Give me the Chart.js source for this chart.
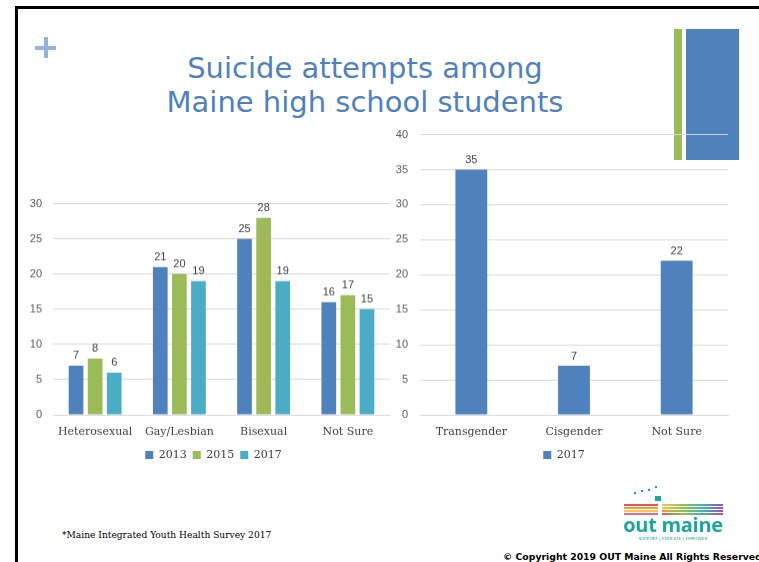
<!DOCTYPE html>
<html>
<head>
<meta charset="utf-8">
<script src="https://cdn.jsdelivr.net/npm/chart.js@4"></script>
<style>
  html, body { margin:0; padding:0; background:#fff; }
  body { width:759px; height:562px; position:relative; overflow:hidden; }
  .abs { position:absolute; }
  #borderTop { left:15px; top:6px; width:760px; height:3px; background:#000; }
  #borderLeft { left:15px; top:6px; width:3px; height:570px; background:#000; }
  #plusH { left:35px; top:46px; width:21px; height:4px; background:#95B3D7; }
  #plusV { left:44px; top:37px; width:4px; height:21px; background:#95B3D7; }
  #title { left:0; top:51px; width:730px; text-align:center; font-family:"DejaVu Sans", Verdana, sans-serif; font-size:29px; line-height:34px; color:#4F81BD; }
  #decoGreen { left:674px; top:29px; width:8px; height:131px; background:#9BBB59; }
  #decoBlue { left:686px; top:29px; width:53px; height:131px; background:#4F81BD; }
  #c1wrap { left:29px; top:186px; width:367px; height:283.5px; }
  #c2wrap { left:380px; top:116px; width:370px; height:353.5px; }
  #foot { left:62px; top:530px; font-family:"DejaVu Serif", serif; font-size:9.1px; color:#000; white-space:nowrap; }
  #copy { left:503px; top:551px; font-family:"DejaVu Sans", Verdana, sans-serif; font-weight:bold; font-size:9.3px; color:#000; white-space:nowrap; }
  #logoText { left:622px; top:513px; width:102px; text-align:center; font-family:"Open Sans", "DejaVu Sans", sans-serif; font-weight:700; font-size:20px; line-height:24px; color:#1BA89C; letter-spacing:-0.3px; }
  #logoTag { left:622px; top:536px; width:102px; text-align:center; font-family:"DejaVu Sans", sans-serif; font-size:4.2px; color:#1BA89C; white-space:nowrap; }
  .rb { position:absolute; height:1.5px; }
</style>
</head>
<body>
<div id="borderTop" class="abs"></div>
<div id="borderLeft" class="abs"></div>
<div id="plusH" class="abs"></div>
<div id="plusV" class="abs"></div>
<div id="decoGreen" class="abs"></div>
<div id="decoBlue" class="abs"></div>
<div id="title" class="abs">Suicide attempts among<br>Maine high school students</div>

<div id="c1wrap" class="abs"><canvas id="c1"></canvas></div>
<div id="c2wrap" class="abs"><canvas id="c2"></canvas></div>

<div id="foot" class="abs">*Maine Integrated Youth Health Survey 2017</div>
<div id="copy" class="abs">© Copyright 2019 OUT Maine All Rights Reserved</div>

<div id="logo" class="abs" style="left:0;top:0;width:759px;height:562px;">
  <div class="rb" style="left:624px;top:504px;width:34px;background:#E8554E"></div>
  <div class="rb" style="left:624px;top:507px;width:34px;background:#F39A3B"></div>
  <div class="rb" style="left:624px;top:510px;width:34px;background:#F2C94C"></div>
  <div class="rb" style="left:624px;top:513px;width:34px;background:#E86A8A"></div>
  <div class="rb" style="left:662px;top:504px;width:61px;background:linear-gradient(90deg,#F2C94C,#8BC34A,#3FB6A8,#7E57C2)"></div>
  <div class="rb" style="left:662px;top:507px;width:61px;background:linear-gradient(90deg,#F2C94C,#8BC34A,#3FB6A8,#9C4DCC)"></div>
  <div class="rb" style="left:662px;top:510px;width:61px;background:linear-gradient(90deg,#F39A3B,#8BC34A,#3FB6A8,#9C4DCC)"></div>
  <div class="rb" style="left:662px;top:513px;width:61px;background:linear-gradient(90deg,#E8554E,#8BC34A,#3FB6A8,#B04DC0)"></div>
  <div class="abs" style="left:655px;top:496px;width:6px;height:5px;background:#1BA89C"></div>
  <div class="abs" style="left:634px;top:492px;width:2px;height:2px;background:#1BA89C"></div>
  <div class="abs" style="left:641px;top:490px;width:2px;height:2px;background:#1BA89C"></div>
  <div class="abs" style="left:648px;top:489px;width:2px;height:2px;background:#1BA89C"></div>
  <div class="abs" style="left:655px;top:486px;width:2px;height:2px;background:#1BA89C"></div>
</div>
<div id="logoText" class="abs">out maine</div>
<div id="logoTag" class="abs">SUPPORT | EDUCATE | EMPOWER</div>

<script>
// ---- Data ----
const orientationCategories = ["Heterosexual", "Gay/Lesbian", "Bisexual", "Not Sure"];
const orientation2013 = [7, 21, 25, 16];
const orientation2015 = [8, 20, 28, 17];
const orientation2017 = [6, 19, 19, 15];
const orientationYears = ["2013", "2015", "2017"];

const genderCategories = ["Transgender", "Cisgender", "Not Sure"];
const gender2017 = [35, 7, 22];
const genderYear = "2017";

const leftTickMax = 30;
const rightTickMax = 40;
const tickStep = 5;

// ---- Styling ----
const C2013 = "#4F81BD", C2015 = "#9BBB59", C2017 = "#4BACC6";
const gridColor = "#D9D9D9";
const tickFont = { family: "'Liberation Sans', Arial, sans-serif", size: 11 };
const catFont = { family: "'DejaVu Serif', serif", size: 11 };

const valueLabels = {
  id: "valueLabels",
  afterDatasetsDraw(chart) {
    const ctx = chart.ctx;
    ctx.save();
    ctx.font = "11px 'Liberation Sans', Arial, sans-serif";
    ctx.fillStyle = "#404040";
    ctx.textAlign = "center";
    ctx.textBaseline = "bottom";
    chart.data.datasets.forEach((ds, i) => {
      chart.getDatasetMeta(i).data.forEach((bar, j) => {
        ctx.fillText(String(ds.data[j]), bar.x, bar.y - 4);
      });
    });
    ctx.restore();
  }
};

// nudges the (centred) legend horizontally
const legendShift = {
  id: "legendShift",
  afterLayout(chart, args, opts) {
    const l = chart.legend;
    if (l && opts && opts.dx) { l.left += opts.dx; l.right += opts.dx; }
  }
};

function yAxis(max, width, pad) {
  return {
    min: 0, max: max,
    ticks: { stepSize: tickStep, color: "#595959", font: tickFont, padding: pad },
    grid: { color: gridColor, drawTicks: false, lineWidth: 1 },
    border: { display: false },
    afterFit(scale) { scale.width = width; }
  };
}
function xAxis() {
  return {
    ticks: { color: "#404040", font: catFont, padding: 10.4, maxRotation: 0, autoSkip: false },
    grid: { display: false, drawTicks: false },
    border: { display: true, color: gridColor },
    afterFit(scale) { scale.height = 28.5; }
  };
}
function legendOpts() {
  return {
    display: true, position: "bottom",
    labels: { boxWidth: 8, boxHeight: 8, color: "#404040", font: catFont, padding: 6 }
  };
}

new Chart(document.getElementById("c1"), {
  type: "bar",
  data: {
    labels: orientationCategories,
    datasets: [
      { label: orientationYears[0], data: orientation2013, backgroundColor: C2013 },
      { label: orientationYears[1], data: orientation2015, backgroundColor: C2015 },
      { label: orientationYears[2], data: orientation2017, backgroundColor: C2017 }
    ]
  },
  options: {
    responsive: true, maintainAspectRatio: false, animation: false,
    datasets: { bar: { categoryPercentage: 0.68, barPercentage: 0.77 } },
    layout: { padding: { top: 0, right: 6, left: 0, bottom: 0 } },
    scales: { x: xAxis(), y: yAxis(leftTickMax, 24, 11) },
    plugins: { legend: legendOpts(), tooltip: { enabled: false }, legendShift: { dx: 4 } }
  },
  plugins: [valueLabels, legendShift]
});

new Chart(document.getElementById("c2"), {
  type: "bar",
  data: {
    labels: genderCategories,
    datasets: [
      { label: genderYear, data: gender2017, backgroundColor: C2013 }
    ]
  },
  options: {
    responsive: true, maintainAspectRatio: false, animation: false,
    datasets: { bar: { categoryPercentage: 0.5, barPercentage: 0.62 } },
    layout: { padding: { top: 0, right: 22, left: 0, bottom: 0 } },
    scales: { x: xAxis(), y: yAxis(rightTickMax, 40, 12) },
    plugins: { legend: legendOpts(), tooltip: { enabled: false }, legendShift: { dx: 10 } }
  },
  plugins: [valueLabels, legendShift]
});
</script>
</body>
</html>
